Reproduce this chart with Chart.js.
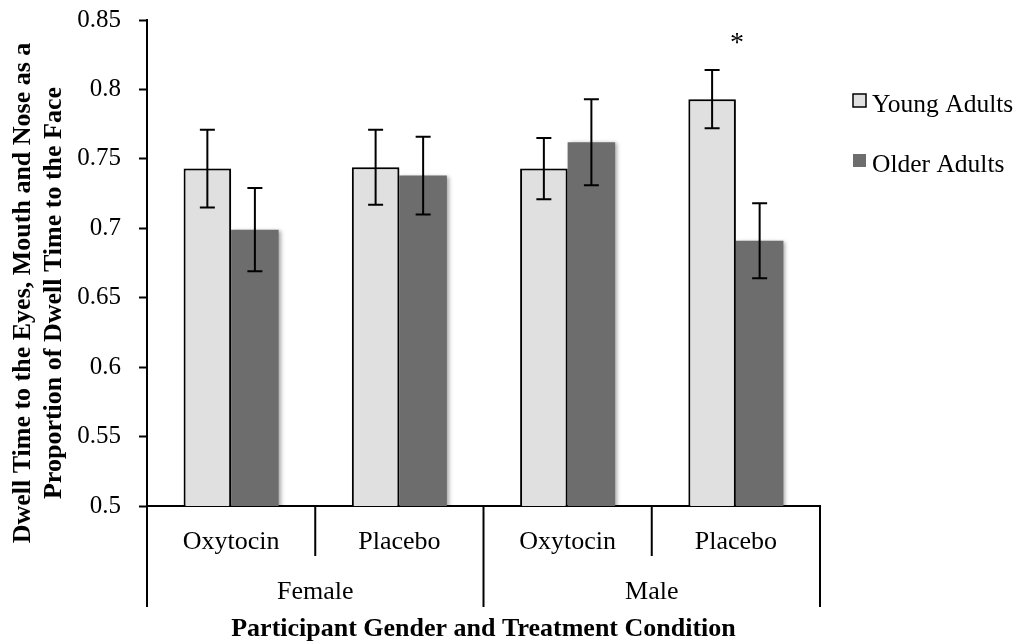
<!DOCTYPE html>
<html>
<head>
<meta charset="utf-8">
<script src="https://cdn.jsdelivr.net/npm/chart.js@4.4.0/dist/chart.umd.min.js"></script>
<style>
  html, body { margin: 0; padding: 0; background: #fff; }
  canvas { display: block; }
</style>
</head>
<body>
<canvas id="myChart" width="1025" height="644"></canvas>
<script>
// data
const groups = ['Female', 'Male'];
const conditions = ['Oxytocin', 'Placebo', 'Oxytocin', 'Placebo'];
const seriesNames = ['Young Adults', 'Older Adults'];
const youngMeans = [0.743, 0.744, 0.743, 0.793];
const youngErrors = [0.028, 0.027, 0.022, 0.021];
const olderMeans = [0.699, 0.738, 0.762, 0.691];
const olderErrors = [0.030, 0.028, 0.031, 0.027];
const yTicks = [0.5, 0.55, 0.6, 0.65, 0.7, 0.75, 0.8, 0.85];
const significant = [false, false, false, true];

const serif = '"Liberation Serif", "Times New Roman", serif';
const errors = [youngErrors, olderErrors];

// error bars, asterisk, legend, axis titles and two-level x labels
const extras = {
  id: 'extras',
  beforeDatasetDraw(chart) {
    const ctx = chart.ctx;
    ctx.save();
    ctx.shadowColor = 'rgba(0,0,0,0.35)';
    ctx.shadowBlur = 4;
    ctx.shadowOffsetX = 2;
    ctx.shadowOffsetY = 1;
  },
  afterDatasetDraw(chart) {
    chart.ctx.restore();
  },
  afterDatasetsDraw(chart) {
    const ctx = chart.ctx;
    const y = chart.scales.y;
    ctx.save();
    ctx.strokeStyle = '#000';
    ctx.lineWidth = 2;
    chart.data.datasets.forEach((ds, d) => {
      const meta = chart.getDatasetMeta(d);
      meta.data.forEach((bar, i) => {
        const top = y.getPixelForValue(ds.data[i] + errors[d][i]);
        const bot = y.getPixelForValue(ds.data[i] - errors[d][i]);
        ctx.beginPath();
        ctx.moveTo(bar.x, top); ctx.lineTo(bar.x, bot);
        ctx.moveTo(bar.x - 7.5, top); ctx.lineTo(bar.x + 7.5, top);
        ctx.moveTo(bar.x - 7.5, bot); ctx.lineTo(bar.x + 7.5, bot);
        ctx.stroke();
      });
    });
    ctx.restore();
  },
  afterDraw(chart) {
    const ctx = chart.ctx;
    const x = chart.scales.x;
    const area = chart.chartArea;
    ctx.save();
    ctx.fillStyle = '#000';
    ctx.strokeStyle = '#000';
    ctx.lineWidth = 2;

    // asterisk over significant pairs
    ctx.font = '28px ' + serif;
    ctx.textAlign = 'center';
    ctx.textBaseline = 'alphabetic';
    significant.forEach((s, i) => {
      if (s) ctx.fillText('*', x.getPixelForValue(i) + 1, 51);
    });

    // category dividers
    for (let i = 0; i <= conditions.length; i++) {
      const px = x.getPixelForValue(i - 0.5);
      const outer = i % 2 === 0;
      ctx.beginPath();
      ctx.moveTo(px, area.bottom);
      ctx.lineTo(px, outer ? 607 : 556);
      ctx.stroke();
    }

    ctx.font = '26px ' + serif;
    conditions.forEach((c, i) => {
      ctx.fillText(c, x.getPixelForValue(i), 549);
    });
    groups.forEach((g, k) => {
      const cx = (x.getPixelForValue(2 * k) + x.getPixelForValue(2 * k + 1)) / 2;
      ctx.fillText(g, cx, 599);
    });

    // axis titles
    ctx.font = 'bold 26px ' + serif;
    ctx.fillText('Participant Gender and Treatment Condition', (area.left + area.right) / 2, 636);
    ctx.save();
    ctx.translate(0, 293);
    ctx.rotate(-Math.PI / 2);
    ctx.textBaseline = 'middle';
    ctx.fillText('Dwell Time to the Eyes, Mouth and Nose as a', 0, 23);
    ctx.fillText('Proportion of Dwell Time to the Face', 0, 54);
    ctx.restore();

    // legend
    ctx.font = '25.5px ' + serif;
    ctx.textAlign = 'left';
    ctx.lineWidth = 1.5;
    chart.data.datasets.forEach((ds, d) => {
      const by = 94 + d * 60;
      ctx.fillStyle = ds.backgroundColor;
      ctx.fillRect(853, by, 13, 13);
      if (ds.borderWidth) ctx.strokeRect(853, by, 13, 13);
      ctx.fillStyle = '#000';
      ctx.fillText(ds.label, 872, by + 18);
    });
    ctx.restore();
  }
};

const ctx = document.getElementById('myChart').getContext('2d');
const myChart = new Chart(ctx, {
  type: 'bar',
  data: {
    labels: conditions,
    datasets: [{
      label: seriesNames[0],
      data: youngMeans,
      backgroundColor: '#e0e0e0',
      borderColor: '#000',
      borderWidth: 2
    }, {
      label: seriesNames[1],
      data: olderMeans,
      backgroundColor: '#6d6d6d',
      borderWidth: 0
    }]
  },
  options: {
    responsive: false,
    animation: false,
    devicePixelRatio: 1,
    layout: { padding: { left: 0, right: 205, top: 20, bottom: 0 } },
    datasets: { bar: { categoryPercentage: 0.565, barPercentage: 1.0 } },
    plugins: { legend: { display: false }, tooltip: { enabled: false } },
    scales: {
      x: {
        grid: { display: false },
        ticks: { display: false },
        border: { display: true, color: '#000', width: 2 },
        afterFit(scale) { scale.height = 138; }
      },
      y: {
        min: 0.5,
        max: 0.85,
        afterBuildTicks(scale) { scale.ticks = yTicks.map(v => ({ value: v })); },
        afterFit(scale) {
          scale.width = 147;
          scale.paddingTop = 0;
          scale.paddingBottom = 0;
        },
        grid: { drawOnChartArea: false, tickLength: 8, tickWidth: 2, tickColor: '#000' },
        border: { display: true, color: '#000', width: 2 },
        ticks: {
          color: '#000',
          padding: 18,
          font: { family: serif, size: 25 },
          callback: v => String(Number(v.toFixed(2)))
        }
      }
    }
  },
  plugins: [extras]
});
</script>
</body>
</html>
